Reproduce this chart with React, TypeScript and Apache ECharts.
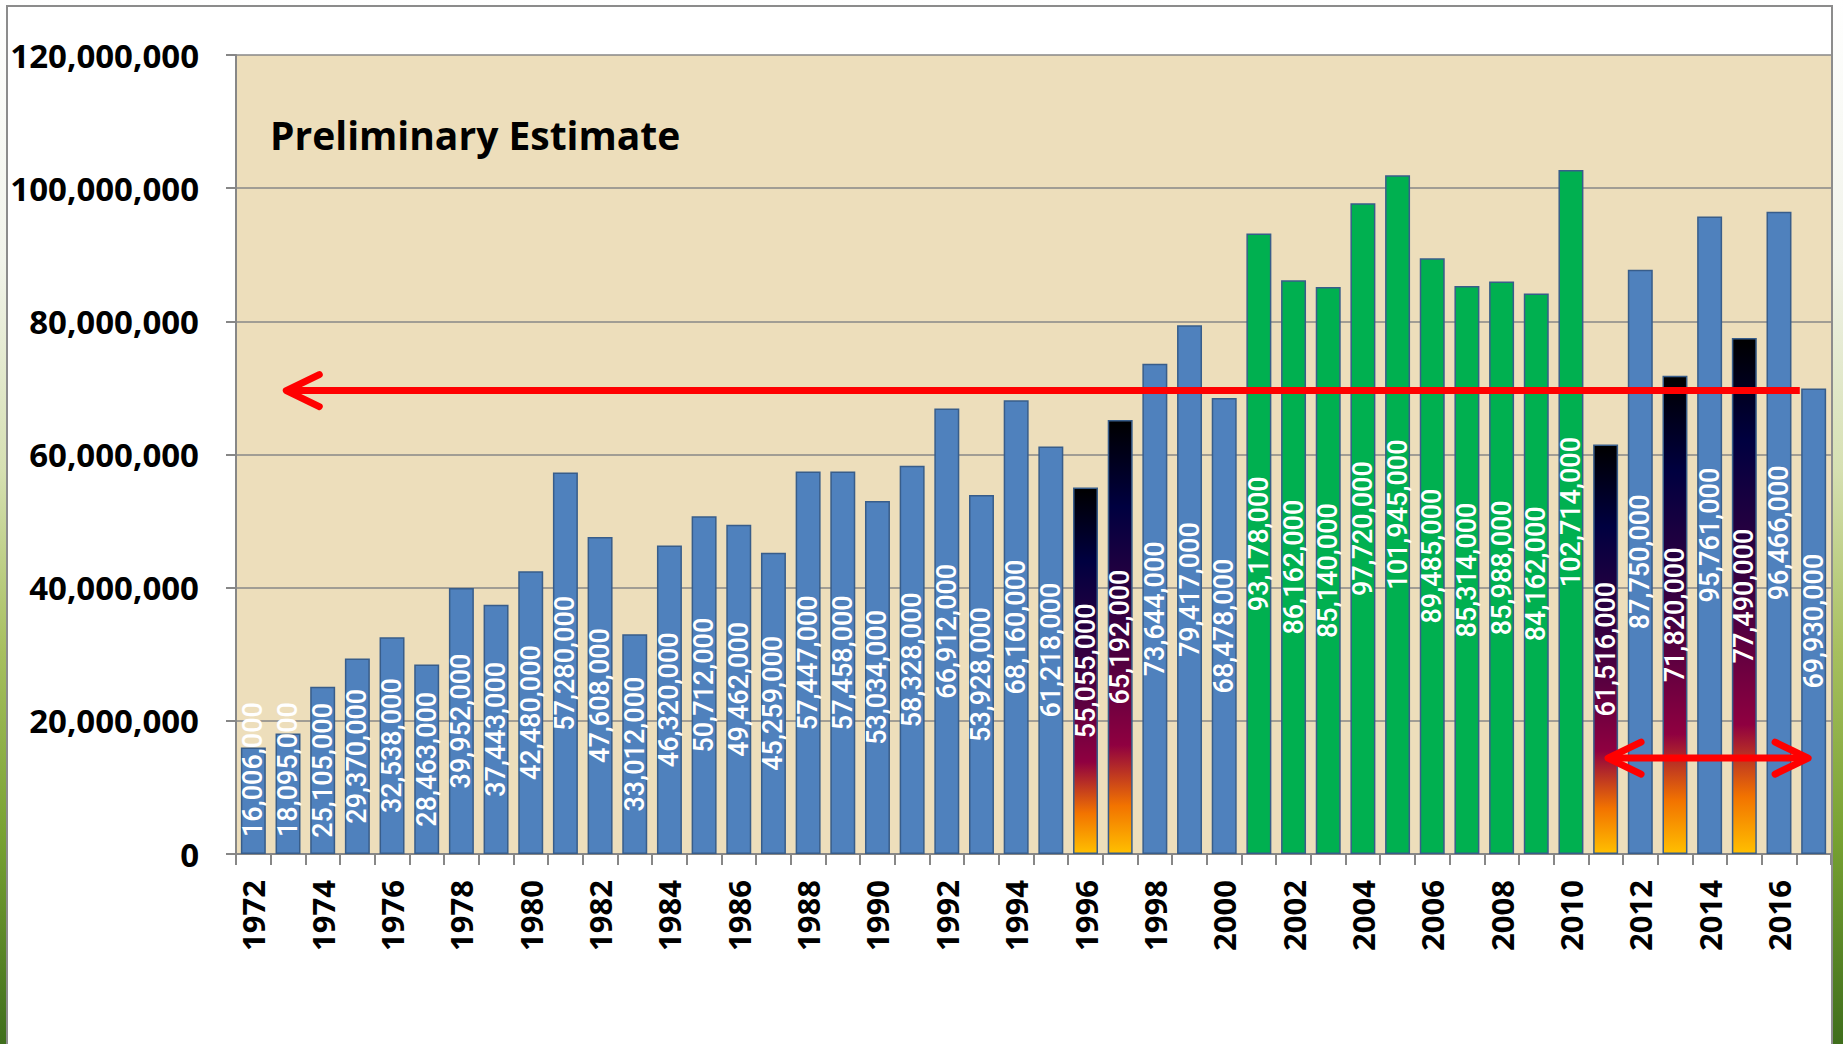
import React, { useEffect, useRef } from "react";
import * as echarts from "echarts";

const years = [
  "1972","1973","1974","1975","1976","1977","1978","1979","1980","1981",
  "1982","1983","1984","1985","1986","1987","1988","1989","1990","1991",
  "1992","1993","1994","1995","1996","1997","1998","1999","2000","2001",
  "2002","2003","2004","2005","2006","2007","2008","2009","2010","2011",
  "2012","2013","2014","2015","2016","2017",
];

const production = [
  16006000, 18095000, 25105000, 29370000, 32538000, 28463000, 39952000, 37443000, 42480000, 57280000,
  47608000, 33012000, 46320000, 50712000, 49462000, 45259000, 57447000, 57458000, 53034000, 58328000,
  66912000, 53928000, 68160000, 61218000, 55055000, 65192000, 73644000, 79417000, 68478000, 93178000,
  86162000, 85140000, 97720000, 101945000, 89485000, 85314000, 85988000, 84162000, 102714000, 61516000,
  87750000, 71820000, 95761000, 77490000, 96466000, 69930000,
];

const greenYears = ["2001","2002","2003","2004","2005","2006","2007","2008","2009","2010"];
const sunsetYears = ["1996","1997","2011","2013","2015"];

const yMin = 0;
const yMax = 120000000;
const yInterval = 20000000;

const noteText = "Preliminary Estimate";

// arrows: [fromIndex, toIndex, value, headAtStart, headAtEnd]
const referenceArrow = [0.95, 44.6, 69600000, 1, 0];
const spanArrow = [39.07, 44.84, 14400000, 1, 1];

const BLUE = "#4F81BD";
const GREEN = "#00B050";
const BORDER = "#385D8A";
const GRID_GRAY = "#878787";

const sunset = () =>
  new echarts.graphic.LinearGradient(0, 0, 0, 1, [
    { offset: 0, color: "#000000" },
    { offset: 0.2, color: "#000040" },
    { offset: 0.5, color: "#400040" },
    { offset: 0.75, color: "#8F0040" },
    { offset: 0.89, color: "#F27300" },
    { offset: 1, color: "#FFBF00" },
  ]);

const fmt = (v: number) => Number(v).toLocaleString("en-US");

export default function App() {
  const ref = useRef<HTMLDivElement>(null);

  useEffect(() => {
    if (!ref.current) return;
    const chart = echarts.init(ref.current, undefined, { renderer: "svg" });

    const barData = production.map((v, i) => {
      const y = years[i];
      const color = greenYears.includes(y) ? GREEN : sunsetYears.includes(y) ? sunset() : BLUE;
      const item: any = { value: v, itemStyle: { color } };
      if (v < 25000000) {
        item.label = {
          position: "insideBottom",
          distance: 17,
          align: "left",
          verticalAlign: "middle",
        };
      }
      return item;
    });

    chart.setOption({
      animation: false,
      backgroundColor: "transparent",
      grid: {
        left: 236,
        top: 55,
        width: 1595,
        height: 799,
        show: true,
        backgroundColor: "#eddebb",
        borderWidth: 0,
        containLabel: false,
      },
      xAxis: [
        {
          type: "category",
          data: years,
          boundaryGap: true,
          axisLine: { show: true, onZero: false, lineStyle: { color: GRID_GRAY, width: 2 } },
          axisTick: { show: true, interval: 0, length: 11, lineStyle: { color: GRID_GRAY, width: 2 } },
          axisLabel: {
            interval: 1,
            rotate: 90,
            margin: 26,
            color: "#000",
            fontFamily: "Open Sans",
            fontWeight: "bold",
            fontSize: 31,
          },
          splitLine: { show: false },
        },
        {
          type: "value",
          min: -0.5,
          max: 45.5,
          show: false,
          gridIndex: 0,
        },
      ],
      yAxis: {
        type: "value",
        min: yMin,
        max: yMax,
        interval: yInterval,
        axisLine: { show: true, onZero: false, lineStyle: { color: GRID_GRAY, width: 2 } },
        axisTick: { show: true, length: 10, lineStyle: { color: GRID_GRAY, width: 2 } },
        axisLabel: {
          formatter: (v: number) => fmt(v),
          margin: 37,
          color: "#000",
          fontFamily: "Open Sans",
          fontWeight: "bold",
          fontSize: 33,
        },
        splitLine: { show: true, lineStyle: { color: GRID_GRAY, width: 1.5 } },
      },
      series: [
        {
          type: "bar",
          xAxisIndex: 0,
          yAxisIndex: 0,
          data: barData,
          barCategoryGap: "28%",
          itemStyle: { borderColor: BORDER, borderWidth: 1.5 },
          label: {
            show: true,
            position: "inside",
            rotate: 90,
            color: "#ffffff",
            fontFamily: "Roboto",
            fontWeight: 500,
            fontSize: 27,
            formatter: (p: any) => fmt(p.value),
          },
          z: 2,
        },
        {
          type: "custom",
          xAxisIndex: 1,
          yAxisIndex: 0,
          encode: { x: 0, y: 2 },
          data: [referenceArrow, spanArrow],
          z: 10,
          silent: true,
          renderItem: (params: any, api: any) => {
            const from = api.value(0);
            const to = api.value(1);
            const val = api.value(2);
            const hs = api.value(3);
            const he = api.value(4);
            const a = api.coord([from, val]);
            const b = api.coord([to, val]);
            const red = "#ff0000";
            const children: any[] = [
              {
                type: "line",
                shape: { x1: a[0], y1: a[1], x2: b[0], y2: b[1] },
                style: { stroke: red, lineWidth: 7 },
              },
            ];
            const head = (tip: number[], dir: number) => ({
              type: "polyline",
              shape: {
                points: [
                  [tip[0] + dir * 33, tip[1] - 16],
                  [tip[0], tip[1]],
                  [tip[0] + dir * 33, tip[1] + 16],
                ],
              },
              style: { stroke: red, fill: "none", lineWidth: 7, lineCap: "round", lineJoin: "round" },
            });
            if (hs) children.push(head(a, 1));
            if (he) children.push(head(b, -1));
            return { type: "group", children };
          },
        },
      ],
      graphic: [
        {
          type: "text",
          left: 270,
          top: 115,
          style: {
            text: noteText,
            fill: "#000",
            fontFamily: "Open Sans",
            fontWeight: "bold",
            fontSize: 39,
          },
          z: 20,
        },
      ],
    });

    return () => chart.dispose();
  }, []);

  return (
    <div
      style={{
        position: "fixed",
        left: 0,
        top: 0,
        width: 1843,
        height: 1044,
        overflow: "hidden",
        background:
          "linear-gradient(to bottom, #ffffff 0%, #f1f3ea 25%, #d6e0b2 45%, #a8c060 62%, #78a232 80%, #3f6e1c 100%)",
      }}
    >
      <div
        style={{
          position: "absolute",
          left: 6,
          top: 5,
          width: 1827,
          height: 1100,
          boxSizing: "border-box",
          border: "2px solid #8c8c8c",
          background: "#ffffff",
        }}
      />
      <div ref={ref} style={{ position: "absolute", left: 0, top: 0, width: 1843, height: 1044 }} />
    </div>
  );
}
